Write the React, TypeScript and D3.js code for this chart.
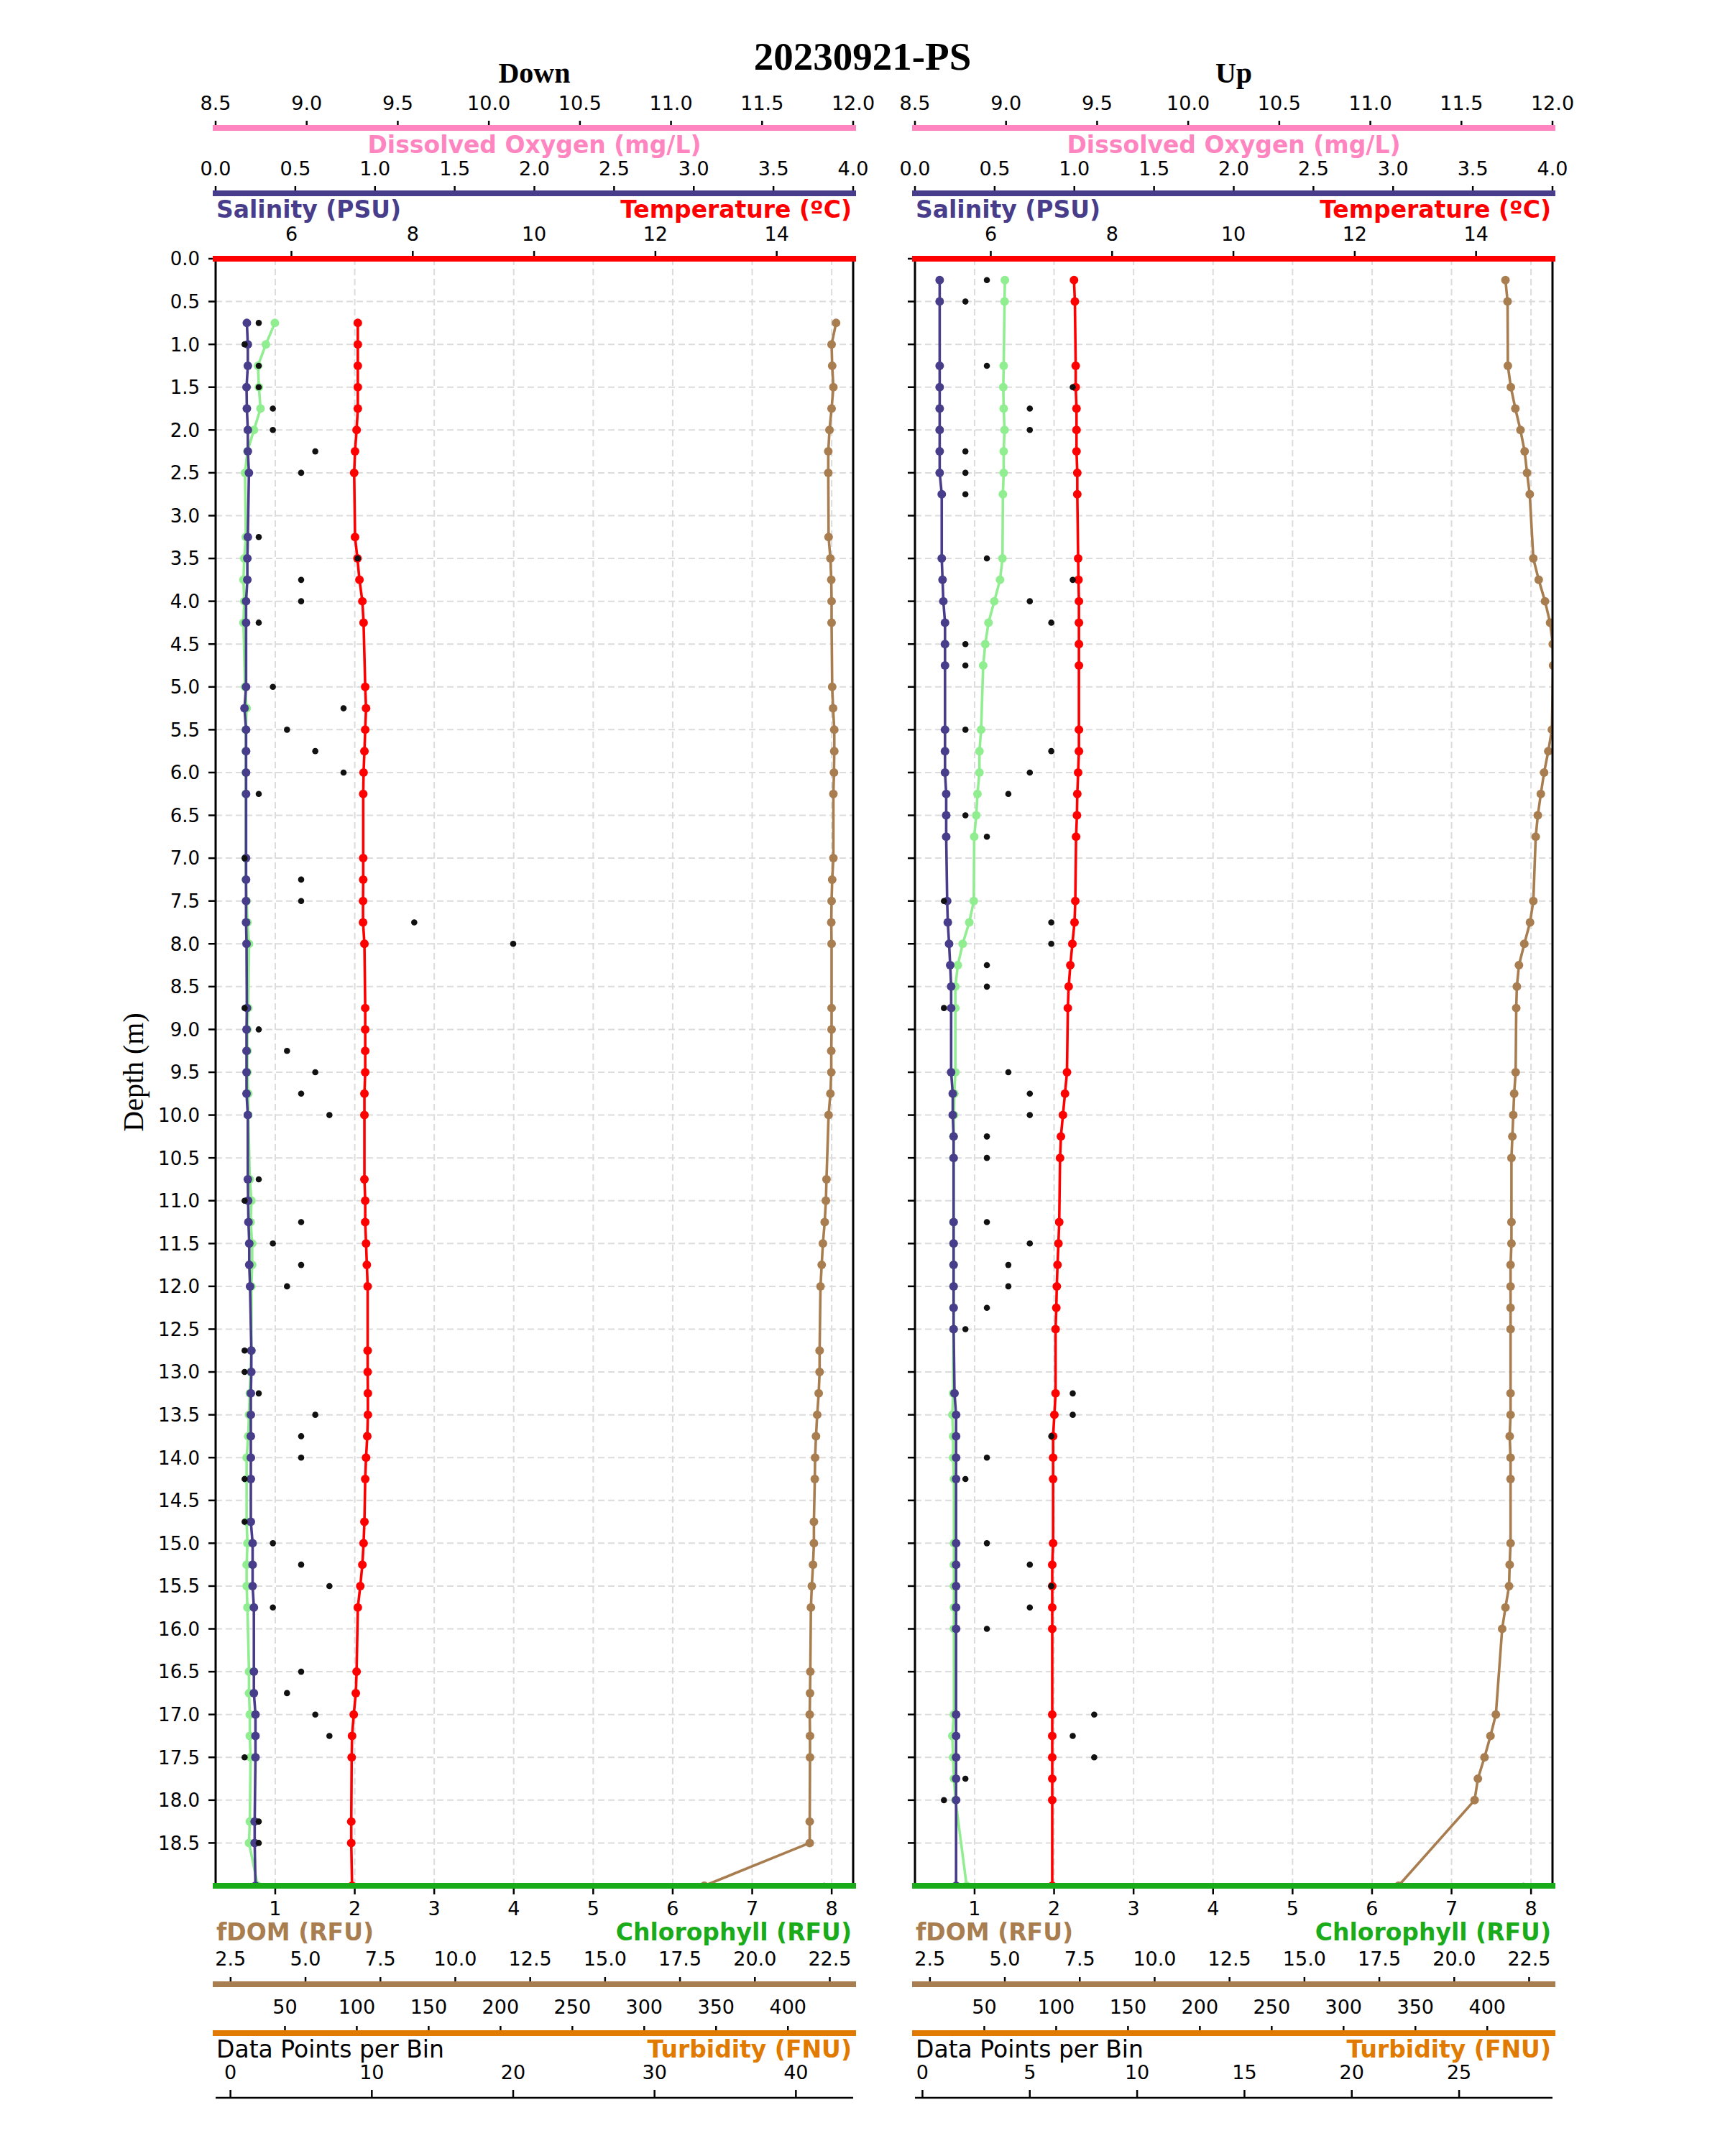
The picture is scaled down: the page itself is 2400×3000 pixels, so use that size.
import * as d3 from 'd3'

// depth bins (m)
const downDepth = [0.75, 1, 1.25, 1.5, 1.75, 2, 2.25, 2.5, 3.25, 3.5, 3.75, 4, 4.25, 5, 5.25, 5.5, 5.75, 6, 6.25, 7, 7.25, 7.5, 7.75, 8, 8.75, 9, 9.25, 9.5, 9.75, 10, 10.75, 11, 11.25, 11.5, 11.75, 12, 12.75, 13, 13.25, 13.5, 13.75, 14, 14.25, 14.75, 15, 15.25, 15.5, 15.75, 16.5, 16.75, 17, 17.25, 17.5, 18.25, 18.5, 19]
const downSalinity = [0.196, 0.202, 0.202, 0.194, 0.196, 0.202, 0.202, 0.209, 0.202, 0.199, 0.199, 0.191, 0.191, 0.191, 0.181, 0.191, 0.191, 0.191, 0.191, 0.191, 0.191, 0.191, 0.191, 0.194, 0.196, 0.194, 0.194, 0.194, 0.194, 0.202, 0.202, 0.204, 0.206, 0.211, 0.211, 0.216, 0.224, 0.224, 0.221, 0.221, 0.221, 0.221, 0.221, 0.221, 0.232, 0.232, 0.232, 0.24, 0.24, 0.24, 0.25, 0.25, 0.25, 0.245, 0.245, 0.25]
const downChl = [0.995, 0.882, 0.783, 0.794, 0.815, 0.732, 0.65, 0.62, 0.63, 0.61, 0.6, 0.61, 0.6, 0.62, 0.64, 0.63, 0.63, 0.63, 0.63, 0.63, 0.63, 0.64, 0.65, 0.67, 0.66, 0.65, 0.65, 0.65, 0.66, 0.66, 0.68, 0.7, 0.69, 0.71, 0.71, 0.7, 0.7, 0.69, 0.68, 0.67, 0.66, 0.64, 0.64, 0.64, 0.65, 0.64, 0.64, 0.65, 0.67, 0.67, 0.68, 0.68, 0.69, 0.68, 0.67, 0.78]
const downTemp = [7.094, 7.094, 7.094, 7.094, 7.094, 7.074, 7.048, 7.034, 7.048, 7.088, 7.121, 7.169, 7.189, 7.216, 7.23, 7.216, 7.203, 7.189, 7.183, 7.183, 7.183, 7.18, 7.18, 7.203, 7.216, 7.216, 7.216, 7.216, 7.203, 7.203, 7.203, 7.216, 7.216, 7.23, 7.243, 7.256, 7.256, 7.256, 7.26, 7.26, 7.25, 7.23, 7.216, 7.203, 7.189, 7.169, 7.135, 7.094, 7.074, 7.061, 7.027, 6.999, 6.993, 6.986, 6.986, 6.999]
const downFdom = [22.71, 22.56, 22.58, 22.62, 22.56, 22.49, 22.45, 22.45, 22.46, 22.52, 22.55, 22.56, 22.56, 22.58, 22.61, 22.65, 22.65, 22.64, 22.62, 22.62, 22.58, 22.56, 22.55, 22.56, 22.56, 22.56, 22.55, 22.55, 22.52, 22.46, 22.39, 22.37, 22.33, 22.27, 22.23, 22.19, 22.16, 22.16, 22.13, 22.08, 22.04, 22.01, 22.0, 21.97, 21.97, 21.94, 21.9, 21.87, 21.85, 21.84, 21.83, 21.84, 21.84, 21.83, 21.83, 18.31]
const downCount = [2, 1, 2, 2, 3, 3, 6, 5, 2, 9, 5, 5, 2, 3, 8, 4, 6, 8, 2, 1, 5, 5, 13, 20, 1, 2, 4, 6, 5, 7, 2, 1, 5, 3, 5, 4, 1, 1, 2, 6, 5, 5, 1, 1, 3, 5, 7, 3, 5, 4, 6, 7, 1, 2, 2, 42]

const upDepth = [0.25, 0.5, 1.25, 1.5, 1.75, 2, 2.25, 2.5, 2.75, 3.5, 3.75, 4, 4.25, 4.5, 4.75, 5.5, 5.75, 6, 6.25, 6.5, 6.75, 7.5, 7.75, 8, 8.25, 8.5, 8.75, 9.5, 9.75, 10, 10.25, 10.5, 11.25, 11.5, 11.75, 12, 12.25, 12.5, 13.25, 13.5, 13.75, 14, 14.25, 15, 15.25, 15.5, 15.75, 16, 17, 17.25, 17.5, 17.75, 18, 19]
const upSalinity = [0.155, 0.155, 0.155, 0.155, 0.155, 0.155, 0.155, 0.155, 0.168, 0.168, 0.173, 0.178, 0.1885, 0.1885, 0.1885, 0.1885, 0.1885, 0.1885, 0.196, 0.196, 0.196, 0.202, 0.206, 0.214, 0.221, 0.227, 0.227, 0.227, 0.237, 0.237, 0.2425, 0.2425, 0.2425, 0.2425, 0.2425, 0.2425, 0.2425, 0.2425, 0.248, 0.258, 0.258, 0.258, 0.258, 0.258, 0.258, 0.258, 0.258, 0.258, 0.258, 0.258, 0.258, 0.258, 0.258, 0.258]
const upChl = [1.381, 1.377, 1.366, 1.361, 1.366, 1.377, 1.366, 1.366, 1.356, 1.351, 1.32, 1.248, 1.175, 1.134, 1.108, 1.082, 1.061, 1.061, 1.036, 1.021, 0.995, 0.99, 0.933, 0.85, 0.789, 0.758, 0.758, 0.758, 0.745, 0.74, 0.735, 0.735, 0.735, 0.735, 0.735, 0.735, 0.735, 0.735, 0.73, 0.72, 0.73, 0.73, 0.74, 0.74, 0.74, 0.74, 0.74, 0.74, 0.74, 0.72, 0.73, 0.74, 0.76, 0.9]
const upTemp = [7.372, 7.386, 7.4, 7.4, 7.413, 7.413, 7.413, 7.426, 7.426, 7.44, 7.446, 7.453, 7.453, 7.453, 7.453, 7.453, 7.453, 7.44, 7.426, 7.42, 7.406, 7.393, 7.38, 7.345, 7.311, 7.284, 7.27, 7.256, 7.223, 7.189, 7.156, 7.142, 7.128, 7.115, 7.1, 7.088, 7.08, 7.068, 7.068, 7.048, 7.027, 7.027, 7.027, 7.027, 7.013, 7.013, 7.013, 7.013, 7.013, 7.013, 7.013, 7.013, 7.013, 7.013]
const upFdom = [21.71, 21.78, 21.79, 21.89, 22.04, 22.21, 22.35, 22.43, 22.52, 22.64, 22.82, 23.03, 23.2, 23.29, 23.3, 23.26, 23.14, 23.0, 22.89, 22.79, 22.72, 22.64, 22.53, 22.34, 22.16, 22.09, 22.07, 22.05, 22.0, 21.97, 21.94, 21.91, 21.91, 21.91, 21.88, 21.88, 21.88, 21.88, 21.88, 21.88, 21.85, 21.88, 21.88, 21.88, 21.85, 21.83, 21.71, 21.6, 21.39, 21.21, 21.01, 20.79, 20.68, 18.14]
const upCount = [3, 2, 3, 7, 5, 5, 2, 2, 2, 3, 7, 5, 6, 2, 2, 2, 6, 5, 4, 2, 3, 1, 6, 6, 3, 3, 1, 4, 5, 5, 3, 3, 3, 5, 4, 4, 3, 2, 7, 7, 6, 3, 2, 3, 5, 6, 5, 3, 8, 7, 8, 2, 1, 28]

// tick values
const depthTicks = d3.range(0, 19, 0.5)
const doTicks = [8.5, 9.0, 9.5, 10.0, 10.5, 11.0, 11.5, 12.0]
const salTicks = [0, 0.5, 1.0, 1.5, 2.0, 2.5, 3.0, 3.5, 4.0]
const tempTicks = [6, 8, 10, 12, 14]
const chlTicks = [1, 2, 3, 4, 5, 6, 7, 8]
const fdomTicks = [2.5, 5, 7.5, 10, 12.5, 15, 17.5, 20, 22.5]
const turbTicks = [50, 100, 150, 200, 250, 300, 350, 400]
const downCountTicks = [0, 10, 20, 30, 40]
const upCountTicks = [0, 5, 10, 15, 20, 25]

const PW = 887
const TOP = 360
const BOTTOM = 2624
const TICK_FONT = 'DejaVu Sans'
const SERIF = 'Liberation Serif'

const col = {
  oxygen: '#FF85C0',
  salinity: '#483D8B',
  temp: '#FF0000',
  chlAxis: '#1AAB1A',
  chl: '#90EE90',
  fdom: '#A87D50',
  turb: '#E07A00',
}

const fmt1 = d3.format('.1f')
const fmt0 = d3.format('d')

function HAxis({ scale, ticks, fmt, lineY, color, lw, tickTo, labelY }) {
  const [a, b] = scale.range()
  return (
    <g>
      {ticks.map(t => (
        <g key={t}>
          <line x1={scale(t)} x2={scale(t)} y1={lineY} y2={tickTo} stroke="black" strokeWidth={2.5} />
          <text x={scale(t)} y={labelY} textAnchor="middle" fontFamily={TICK_FONT} fontSize={27}>{fmt(t)}</text>
        </g>
      ))}
      <line x1={a} x2={b} y1={lineY} y2={lineY} stroke={color} strokeWidth={lw} strokeLinecap={lw > 4 ? 'square' : 'butt'} />
    </g>
  )
}

function Series({ depth, vals, x, y, color, r }) {
  const line = d3.line<number>().x(v => x(v)).y((_, i) => y(depth[i]))
  return (
    <g>
      <path d={line(vals) || ''} fill="none" stroke={color} strokeWidth={3.6} strokeLinejoin="round" />
      {vals.map((v, i) => <circle key={i} cx={x(v)} cy={y(depth[i])} r={r} fill={color} />)}
    </g>
  )
}

function Panel({ id, x0, title, depth, sal, chl, temp, fdom, count, countTicks, showDepth }) {
  const rng = [x0, x0 + PW]
  const y = d3.scaleLinear().domain([0, 19]).range([TOP, BOTTOM])
  const xSal = d3.scaleLinear().domain([0, 4]).range(rng)
  const xDo = d3.scaleLinear().domain([8.5, 12]).range(rng)
  const xTemp = d3.scaleLinear().domain([4.75, 15.26]).range(rng)
  const xChl = d3.scaleLinear().domain([0.25, 8.27]).range(rng)
  const xFdom = d3.scaleLinear().domain([2.0, 23.28]).range(rng)
  const xTurb = d3.scaleLinear().domain([1.75, 445.4]).range(rng)
  const [cMin, cMax] = d3.extent(count) as [number, number]
  const pad = (cMax - cMin) * 0.05
  const xCount = d3.scaleLinear().domain([cMin - pad, cMax + pad]).range(rng)
  const cx = x0 + PW / 2

  return (
    <g>
      <defs>
        <clipPath id={id}>
          <rect x={x0} y={TOP} width={PW} height={BOTTOM - TOP} />
        </clipPath>
      </defs>

      {/* grid */}
      {depthTicks.slice(1).map(d => (
        <line key={d} x1={x0} x2={x0 + PW} y1={y(d)} y2={y(d)} stroke="#dcdcdc" strokeWidth={2} strokeDasharray="9 5" />
      ))}
      {chlTicks.map(t => (
        <line key={t} x1={xChl(t)} x2={xChl(t)} y1={TOP} y2={BOTTOM} stroke="#dcdcdc" strokeWidth={2} strokeDasharray="9 5" />
      ))}

      <g clipPath={`url(#${id})`}>
        <Series depth={depth} vals={chl} x={xChl} y={y} color={col.chl} r={6} />
        <Series depth={depth} vals={sal} x={xSal} y={y} color={col.salinity} r={6} />
        <Series depth={depth} vals={temp} x={xTemp} y={y} color={col.temp} r={6} />
        <Series depth={depth} vals={fdom} x={xFdom} y={y} color={col.fdom} r={6} />
        {count.map((v, i) => <circle key={i} cx={xCount(v)} cy={y(depth[i])} r={4.3} fill="#111" />)}
      </g>

      {/* depth axis */}
      {depthTicks.map(d => (
        <g key={d}>
          <line x1={x0 - 10} x2={x0} y1={y(d)} y2={y(d)} stroke="black" strokeWidth={2.5} />
          {showDepth && (
            <text x={x0 - 22} y={y(d)} dy="0.36em" textAnchor="end" fontFamily={TICK_FONT} fontSize={26}>{fmt1(d)}</text>
          )}
        </g>
      ))}
      <line x1={x0} x2={x0} y1={TOP} y2={BOTTOM} stroke="black" strokeWidth={3} />
      <line x1={x0 + PW} x2={x0 + PW} y1={TOP} y2={BOTTOM} stroke="black" strokeWidth={3} />

      {/* top axes */}
      <text x={cx} y={115} textAnchor="middle" fontFamily={SERIF} fontWeight="bold" fontSize={40}>{title}</text>
      <HAxis scale={xDo} ticks={doTicks} fmt={fmt1} lineY={178} color={col.oxygen} lw={8} tickTo={168} labelY={153} />
      <text x={cx} y={213} textAnchor="middle" fontFamily={TICK_FONT} fontWeight="bold" fontSize={33} fill={col.oxygen}>Dissolved Oxygen (mg/L)</text>
      <HAxis scale={xSal} ticks={salTicks} fmt={fmt1} lineY={269} color={col.salinity} lw={8} tickTo={259} labelY={244} />
      <text x={x0 + 1} y={303} fontFamily={TICK_FONT} fontWeight="bold" fontSize={33} fill={col.salinity}>Salinity (PSU)</text>
      <text x={x0 + PW - 2} y={303} textAnchor="end" fontFamily={TICK_FONT} fontWeight="bold" fontSize={33} fill={col.temp}>Temperature (ºC)</text>
      <HAxis scale={xTemp} ticks={tempTicks} fmt={fmt0} lineY={TOP} color={col.temp} lw={8} tickTo={349} labelY={335} />

      {/* bottom axes */}
      <HAxis scale={xChl} ticks={chlTicks} fmt={fmt0} lineY={BOTTOM} color={col.chlAxis} lw={8} tickTo={2636} labelY={2665} />
      <text x={x0 + 1} y={2700} fontFamily={TICK_FONT} fontWeight="bold" fontSize={33} fill={col.fdom}>fDOM (RFU)</text>
      <text x={x0 + PW - 2} y={2700} textAnchor="end" fontFamily={TICK_FONT} fontWeight="bold" fontSize={33} fill={col.chlAxis}>Chlorophyll (RFU)</text>
      <HAxis scale={xFdom} ticks={fdomTicks} fmt={fmt1} lineY={2761} color={col.fdom} lw={8} tickTo={2751} labelY={2735} />
      <HAxis scale={xTurb} ticks={turbTicks} fmt={fmt0} lineY={2829} color={col.turb} lw={8} tickTo={2819} labelY={2802} />
      <text x={x0 + 1} y={2863} fontFamily={TICK_FONT} fontSize={33}>Data Points per Bin</text>
      <text x={x0 + PW - 2} y={2863} textAnchor="end" fontFamily={TICK_FONT} fontWeight="bold" fontSize={33} fill={col.turb}>Turbidity (FNU)</text>
      <HAxis scale={xCount} ticks={countTicks} fmt={fmt0} lineY={2919} color="black" lw={2.5} tickTo={2908} labelY={2893} />
    </g>
  )
}

export default function App() {
  return (
    <svg width={2400} height={3000} style={{ position: 'absolute', left: 0, top: 0, background: 'white' }}>
      <rect width={2400} height={3000} fill="white" />
      <text x={1200} y={97} textAnchor="middle" fontFamily={SERIF} fontWeight="bold" fontSize={55}>20230921-PS</text>
      <text transform="translate(199,1492) rotate(-90)" textAnchor="middle" fontFamily={SERIF} fontSize={40}>Depth (m)</text>
      <Panel id="clipDown" x0={300} title="Down" depth={downDepth} sal={downSalinity} chl={downChl} temp={downTemp}
        fdom={downFdom} count={downCount} countTicks={downCountTicks} showDepth />
      <Panel id="clipUp" x0={1273} title="Up" depth={upDepth} sal={upSalinity} chl={upChl} temp={upTemp}
        fdom={upFdom} count={upCount} countTicks={upCountTicks} showDepth={false} />
    </svg>
  )
}
